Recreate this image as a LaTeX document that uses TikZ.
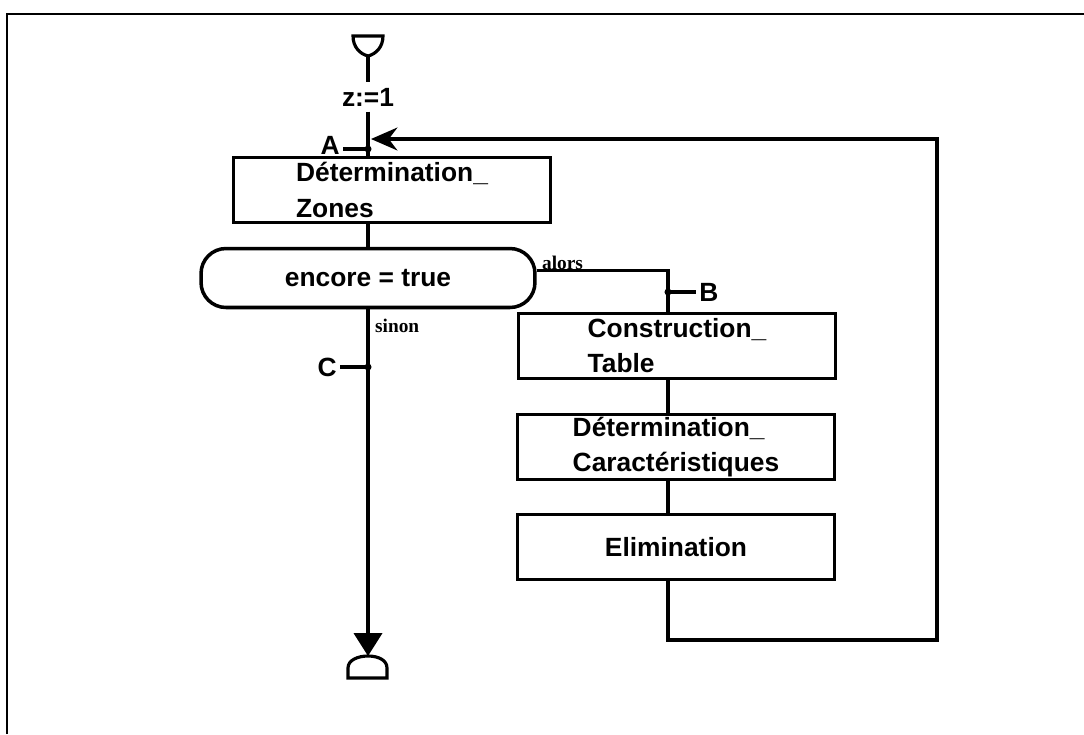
\documentclass[tikz,border=0pt]{standalone}
\usepackage{fontspec}
\setmainfont{Liberation Sans}
\newfontfamily\branchfont{Liberation Serif}
\usetikzlibrary{arrows.meta,positioning}
\tikzset{
	stepbox/.style={draw, line width=2pt, minimum width=6.35cm, minimum height=1.3cm, align=left, inner sep=0pt, font=\fontsize{15}{20}\selectfont\bfseries},
	testbox/.style={draw, line width=2pt, rounded corners=0.5cm, minimum width=6.68cm, minimum height=1.18cm, inner sep=0pt, font=\fontsize{15}{20}\selectfont\bfseries},
	flow/.style={line width=1.8pt},
	tag/.style={inner sep=1pt, font=\fontsize{15}{18}\selectfont\bfseries},
	branch/.style={inner sep=1pt, font=\fontsize{11}{12}\selectfont\branchfont\bfseries},
	dot/.style={circle, fill=black, inner sep=0pt, minimum size=4pt}
}

\begin{document}
\begin{tikzpicture}[x=0.02cm, y=-0.02cm]
	\useasboundingbox (0,0) rectangle (1084,734);
	%%%%% FRAME %%%%%
	\draw[line width=1.6pt] (7,734) -- (7,14) -- (1084,14);

	%%%%% START %%%%%
	\draw[line width=1.8pt] (353,36) -- (383,36) .. controls (383,47) and (376,54) .. (368,56) .. controls (360,54) and (353,47) .. (353,36) -- cycle;
	\coordinate (start) at (368,56);
	\node[tag, inner sep=3pt] (init) at (368,97) {z:=1};

	%%%%% NODES %%%%%
	\node[stepbox] (zones) at (392,190) {Détermination\_\\Zones};
	\node[testbox] (encore) at (368,278) {encore = true};
	\node[stepbox] (table) at (677,346) {Construction\_\\Table};
	\node[stepbox] (caract) at (676,447) {Détermination\_\\Caractéristiques};
	\node[stepbox] (elim) at (676,547) {Elimination};

	\coordinate (A) at (368,149);
	\coordinate (B) at (668,292);
	\coordinate (C) at (368,367);
	\coordinate (stop) at (368,656);

	%%%%% MAIN LINE %%%%%
	\draw[flow] (start) -- (init.north -| A);
	\draw[flow] (init.south -| A) -- (zones.north -| A);
	\draw[flow] (zones.south -| A) -- (encore.north -| A);
	\draw[flow, -{Triangle[length=13pt, width=16pt]}] (encore.south -| A) -- (stop);
	\node[branch, anchor=west] at (373,326) {sinon};

	%%%%% ALORS BRANCH %%%%%
	\draw[flow] ([yshift=0.15cm]encore.east) -| (table.north -| B);
	\node[branch, anchor=south west] at (540,272) {alors};
	\draw[flow] (table.south -| B) -- (caract.north -| B);
	\draw[flow] (caract.south -| B) -- (elim.north -| B);
	\draw[flow, -{Stealth[length=15pt, width=13pt]}] (elim.south -| B) -- (668,640) -- (937,640) -- (937,139) -- (371,139);

	%%%%% POINTS %%%%%
	\node[dot] at (A) {};
	\draw[flow] (A) -- ++(-25,0) node[tag, left, yshift=0.07cm] {A};
	\node[dot] at (B) {};
	\draw[flow] (B) -- ++(28,0) node[tag, right] {B};
	\node[dot] at (C) {};
	\draw[flow] (C) -- ++(-28,0) node[tag, left] {C};

	%%%%% END %%%%%
	\draw[line width=1.8pt] (348,678) -- (348,668) .. controls (348,660) and (358,656) .. (368,656) .. controls (378,656) and (387,660) .. (387,668) -- (387,678) -- cycle;
\end{tikzpicture}
\end{document}
